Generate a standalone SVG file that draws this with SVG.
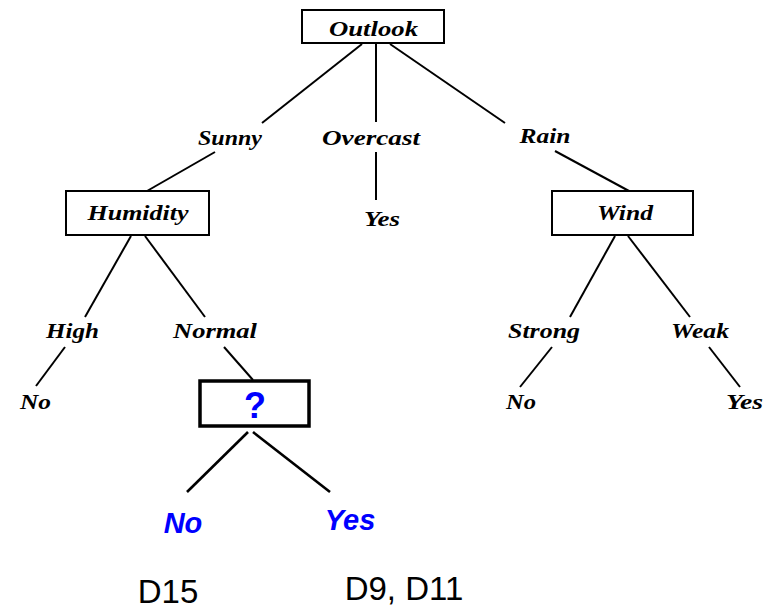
<svg xmlns="http://www.w3.org/2000/svg" width="771" height="610" viewBox="0 0 771 610">
<style>
.box{fill:#fff;stroke:#000;stroke-width:2}
.qbox{fill:#fff;stroke:#000;stroke-width:3.5}
.lbl{font-family:"Liberation Serif",serif;font-style:italic;font-weight:bold;font-size:21px;fill:#000}
.blue{font-family:"Liberation Sans",Arial,sans-serif;font-style:italic;font-weight:bold;font-size:29px;fill:#0000ff}
.q{font-family:"Liberation Sans",Arial,sans-serif;font-weight:bold;font-size:36px;fill:#0000ff}
.d{font-family:"Liberation Sans",Arial,sans-serif;font-size:33px;fill:#000}
.c{stroke:#000;stroke-width:2;fill:none}
.c2{stroke:#000;stroke-width:2.6;fill:none}
</style>
<rect width="771" height="610" fill="#fff"/>
<g id="connectors">
<line class="c" x1="362" y1="44" x2="262" y2="123"/>
<line class="c" x1="376" y1="44" x2="376" y2="122"/>
<line class="c" x1="390" y1="44" x2="505" y2="123"/>
<line class="c" x1="215" y1="152" x2="147" y2="191"/>
<line class="c" x1="376" y1="152" x2="376" y2="200"/>
<line class="c" x1="555" y1="151" x2="629" y2="191"/>
<line class="c" x1="131" y1="236" x2="85" y2="317"/>
<line class="c" x1="145" y1="236" x2="205" y2="317"/>
<line class="c" x1="615" y1="236" x2="570" y2="317"/>
<line class="c" x1="628" y1="236" x2="690" y2="317"/>
<line class="c" x1="65" y1="347" x2="36" y2="386"/>
<line class="c" x1="224" y1="347" x2="253" y2="380"/>
<line class="c" x1="552" y1="347" x2="520" y2="387"/>
<line class="c" x1="709" y1="347" x2="740" y2="387"/>
<line class="c2" x1="248" y1="432" x2="187" y2="492"/>
<line class="c2" x1="253" y1="432" x2="330" y2="492"/>
</g>
<g id="outlook"><rect class="box" x="302" y="10" width="142" height="33"/><text class="lbl" x="373.5" y="36" text-anchor="middle" textLength="89" lengthAdjust="spacingAndGlyphs">Outlook</text></g>
<g id="sunny"><text class="lbl" x="230" y="145" text-anchor="middle" textLength="64" lengthAdjust="spacingAndGlyphs">Sunny</text></g>
<g id="overcast"><text class="lbl" x="371" y="145" text-anchor="middle" textLength="98" lengthAdjust="spacingAndGlyphs">Overcast</text></g>
<g id="rain"><text class="lbl" x="545" y="143" text-anchor="middle" textLength="51" lengthAdjust="spacingAndGlyphs">Rain</text></g>
<g id="humidity"><rect class="box" x="66" y="191" width="143" height="44"/><text class="lbl" x="138" y="220" text-anchor="middle" textLength="101" lengthAdjust="spacingAndGlyphs">Humidity</text></g>
<g id="yes-overcast"><text class="lbl" x="382" y="226" text-anchor="middle" textLength="36" lengthAdjust="spacingAndGlyphs">Yes</text></g>
<g id="wind"><rect class="box" x="552" y="191" width="141" height="44"/><text class="lbl" x="625" y="220" text-anchor="middle" textLength="56" lengthAdjust="spacingAndGlyphs">Wind</text></g>
<g id="high"><text class="lbl" x="72.5" y="338" text-anchor="middle" textLength="53" lengthAdjust="spacingAndGlyphs">High</text></g>
<g id="normal"><text class="lbl" x="215" y="338" text-anchor="middle" textLength="84" lengthAdjust="spacingAndGlyphs">Normal</text></g>
<g id="strong"><text class="lbl" x="544" y="338" text-anchor="middle" textLength="72" lengthAdjust="spacingAndGlyphs">Strong</text></g>
<g id="weak"><text class="lbl" x="700" y="338" text-anchor="middle" textLength="58" lengthAdjust="spacingAndGlyphs">Weak</text></g>
<g id="no-high"><text class="lbl" x="35.5" y="409" text-anchor="middle" textLength="31" lengthAdjust="spacingAndGlyphs">No</text></g>
<g id="no-strong"><text class="lbl" x="521" y="409" text-anchor="middle" textLength="30" lengthAdjust="spacingAndGlyphs">No</text></g>
<g id="yes-weak"><text class="lbl" x="744.5" y="409" text-anchor="middle" textLength="37" lengthAdjust="spacingAndGlyphs">Yes</text></g>
<g id="question"><rect class="qbox" x="200" y="381" width="109" height="45"/><text class="q" x="255" y="418" text-anchor="middle">?</text></g>
<g id="no-blue"><text class="blue" x="183" y="533" text-anchor="middle">No</text></g>
<g id="yes-blue"><text class="blue" x="350" y="530" text-anchor="middle">Yes</text></g>
<g id="d15"><text class="d" x="168" y="603" text-anchor="middle">D15</text></g>
<g id="d9d11"><text class="d" x="404" y="600" text-anchor="middle">D9, D11</text></g>
</svg>
